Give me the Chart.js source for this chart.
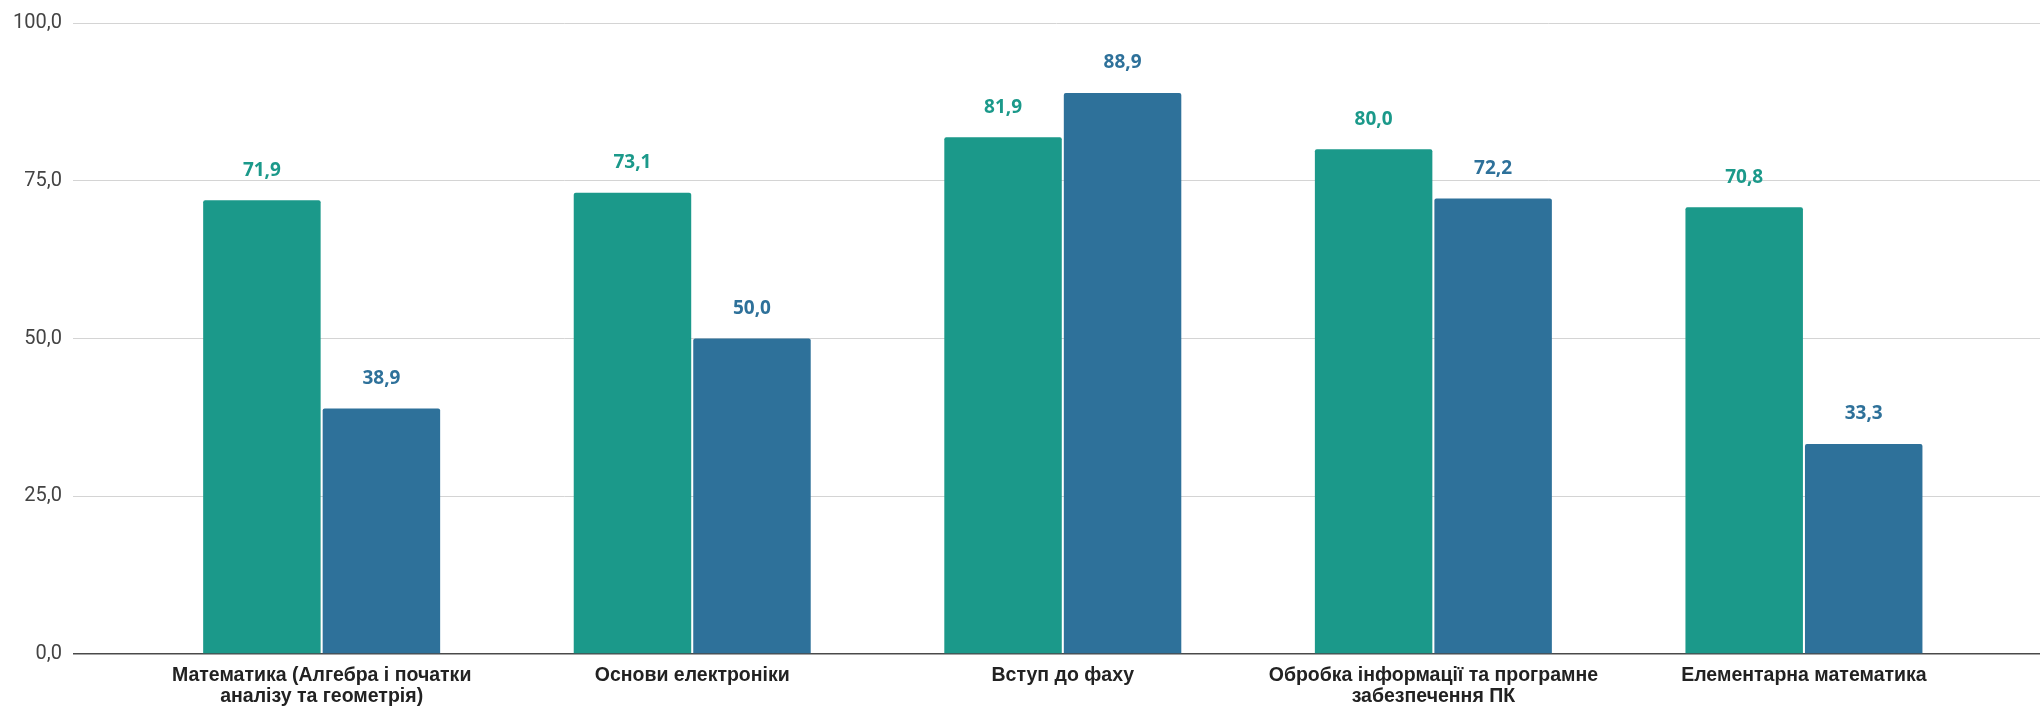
<!DOCTYPE html>
<html>
<head>
<meta charset="utf-8">
<script src="https://cdn.jsdelivr.net/npm/chart.js@4"></script>
<style>
  html, body { margin: 0; padding: 0; background: #fff; }
  #wrap { width: 2040px; height: 708px; position: relative; }
</style>
</head>
<body>
<div id="wrap"><canvas id="chart"></canvas></div>
<script>
// Дані графіка
const categories = [
    ['Математика (Алгебра і початки', 'аналізу та геометрія)'],
    ['Основи електроніки'],
    ['Вступ до фаху'],
    ['Обробка інформації та програмне', 'забезпечення ПК'],
    ['Елементарна математика']
];
const series1 = [71.9, 73.1, 81.9, 80.0, 70.8];
const series2 = [38.9, 50.0, 88.9, 72.2, 33.3];
const yTicks = [0, 25, 50, 75, 100];

const green = '#1b998a';
const blue = '#2e719a';

const fmt = v => v.toFixed(1).replace('.', ',');
const toPoints = arr => arr.map((v, i) => ({ x: i, y: v }));

// Підписи значень над стовпчиками
const valueLabels = {
    id: 'valueLabels',
    afterDatasetsDraw(chart) {
        const ctx = chart.ctx;
        ctx.save();
        ctx.font = 'bold 19px "Open Sans"';
        ctx.textAlign = 'center';
        ctx.textBaseline = 'middle';
        chart.data.datasets.forEach((ds, di) => {
            const meta = chart.getDatasetMeta(di);
            ctx.fillStyle = ds.backgroundColor;
            meta.data.forEach((bar, i) => {
                ctx.fillText(fmt(ds.data[i].y), bar.x, bar.y - 30);
            });
        });
        ctx.restore();
    }
};

new Chart(document.getElementById('chart'), {
    type: 'bar',
    data: {
        datasets: [
            { label: 'Серія 1', data: toPoints(series1), backgroundColor: green, borderRadius: 2 },
            { label: 'Серія 2', data: toPoints(series2), backgroundColor: blue, borderRadius: 2 }
        ]
    },
    options: {
        responsive: true,
        maintainAspectRatio: false,
        devicePixelRatio: 1,
        animation: false,
        categoryPercentage: 0.645,
        barPercentage: 0.983,
        layout: { padding: { top: 22, right: 0, bottom: 0, left: 0 } },
        plugins: { legend: { display: false }, tooltip: { enabled: false } },
        scales: {
            x: {
                type: 'linear',
                offset: false,
                min: -0.671,
                max: 4.637,
                grid: { display: false, drawTicks: false },
                border: { display: false },
                afterBuildTicks: s => {
                    s.ticks = s.ticks.filter(t => Math.abs(t.value - Math.round(t.value)) < 1e-6 && t.value >= 0 && t.value <= 4);
                },
                afterFit: s => { s.height = 54; },
                ticks: {
                    stepSize: 1,
                    autoSkip: false,
                    maxRotation: 0,
                    minRotation: 0,
                    padding: 11,
                    color: '#222',
                    font: { family: '"Liberation Sans", Arial', size: 19.5, weight: 'bold', lineHeight: 1.08 },
                    callback: v => categories[Math.round(v)]
                }
            },
            y: {
                min: 0,
                max: 100,
                border: { display: false },
                afterBuildTicks: s => { s.ticks = yTicks.map(v => ({ value: v })); },
                afterFit: s => { s.width = 73; },
                grid: {
                    drawTicks: false,
                    color: c => c.tick && c.tick.value === 0 ? '#4a4a4a' : '#d4d4d4',
                    lineWidth: c => c.tick && c.tick.value === 0 ? 1.5 : 1
                },
                ticks: {
                    padding: 11,
                    color: '#444',
                    font: { family: 'Roboto', size: 20 },
                    callback: v => fmt(v)
                }
            }
        }
    },
    plugins: [valueLabels]
});
</script>
</body>
</html>
